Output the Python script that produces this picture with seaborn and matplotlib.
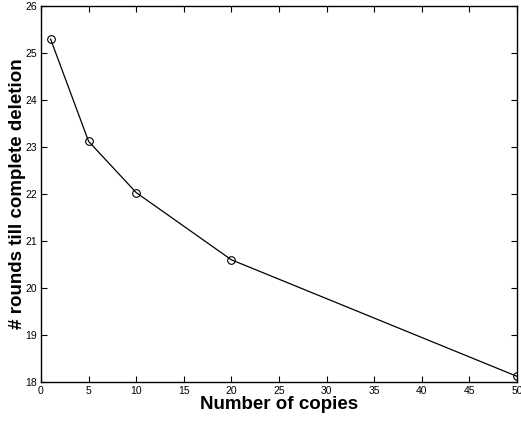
import matplotlib
matplotlib.use("Agg")
import matplotlib.pyplot as plt
import seaborn as sns
import pandas as pd

# -------------data-------------
copies = [1, 5, 10, 20, 50]
rounds = [25.30, 23.12, 22.03, 20.60, 18.12]

df = pd.DataFrame({"copies": copies, "rounds": rounds})

sns.set_style("ticks")
plt.rcParams['font.family'] = ['Liberation Sans', 'DejaVu Sans']
plt.rcParams['text.color'] = 'black'
plt.rcParams['axes.labelcolor'] = 'black'
plt.rcParams['axes.edgecolor'] = 'black'
plt.rcParams['xtick.color'] = 'black'
plt.rcParams['ytick.color'] = 'black'

fig = plt.figure(figsize=(5.21, 4.21), dpi=100)
ax = fig.add_axes([41 / 521, 1 - 382 / 421, 476 / 521, 376 / 421])

sns.lineplot(data=df, x="copies", y="rounds", ax=ax, color="black",
             linewidth=0.9, marker="o", markersize=5.5,
             markerfacecolor="none", markeredgecolor="black",
             markeredgewidth=0.8)

ax.set(xlim=(0, 50), ylim=(18, 26),
       xticks=range(0, 51, 5), yticks=range(18, 27))
ax.tick_params(direction="in", length=4, width=0.8, labelsize=7.5,
               top=True, right=True, pad=3)
for axis in ['top', 'bottom', 'left', 'right']:
    ax.spines[axis].set_visible(True)
    ax.spines[axis].set_linewidth(1.0)

ax.set_xlabel("Number of copies", fontsize=13.5, fontweight="bold", labelpad=0)
ax.set_ylabel("# rounds till complete deletion", fontsize=13.5,
              fontweight="bold", labelpad=-1)

fig.savefig("out.png", dpi=100)
